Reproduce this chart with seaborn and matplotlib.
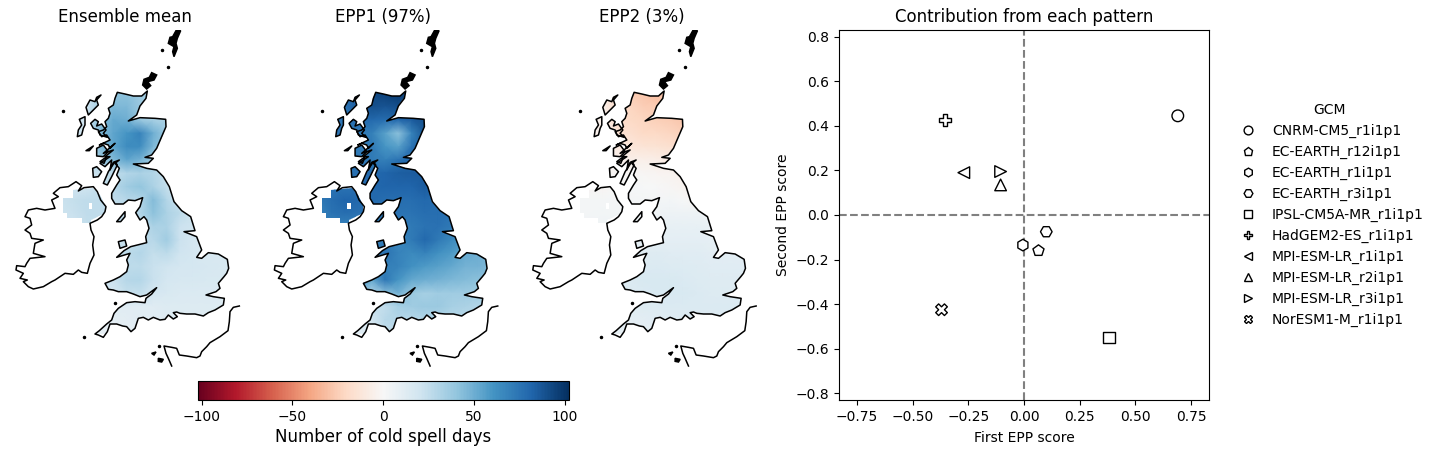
import numpy as np
import pandas as pd
import seaborn as sns
import matplotlib

matplotlib.use('Agg')
import matplotlib.pyplot as plt
from matplotlib.path import Path
from matplotlib.patches import Polygon
from matplotlib.cm import ScalarMappable
from matplotlib.colors import Normalize

# scatter data
gcm = ["CNRM-CM5_r1i1p1", "EC-EARTH_r12i1p1", "EC-EARTH_r1i1p1", "EC-EARTH_r3i1p1", "IPSL-CM5A-MR_r1i1p1",
       "HadGEM2-ES_r1i1p1", "MPI-ESM-LR_r1i1p1", "MPI-ESM-LR_r2i1p1", "MPI-ESM-LR_r3i1p1", "NorESM1-M_r1i1p1"]
first_score = [0.69, 0.065, -0.005, 0.10, 0.38, -0.355, -0.27, -0.105, -0.105, -0.37]
second_score = [0.445, -0.16, -0.135, -0.075, -0.55, 0.425, 0.19, 0.135, 0.195, -0.425]
gcm_markers = ["o", "p", "h", "H", "s", "P", "<", "^", ">", "X"]

titles = ["Ensemble mean", "EPP1 (97%)", "EPP2 (3%)"]

# map grid, picture-read
grid_x = [180, 220, 260, 300, 340, 380, 420, 460, 500, 540, 580, 620, 660, 700]
grid_y = [220, 260, 300, 340, 380, 420, 460, 500, 540, 580, 620, 660, 700, 740, 780, 820, 860, 900, 940]

ensemble_mean = [
    [20, 20, 20, 32, 40, 42, 38, 32, 30, 28, 25, 25, 25, 25],
    [20, 20, 20, 36, 46, 46, 38, 32, 30, 28, 25, 25, 25, 25],
    [20, 20, 20, 42, 52, 50, 38, 34, 32, 28, 25, 25, 25, 25],
    [20, 20, 20, 44, 54, 60, 68, 50, 36, 28, 25, 25, 25, 25],
    [20, 20, 20, 44, 54, 64, 64, 46, 36, 28, 25, 25, 25, 25],
    [20, 20, 20, 38, 44, 54, 48, 36, 28, 25, 25, 25, 25, 25],
    [20, 20, 20, 24, 26, 30, 32, 30, 24, 22, 20, 20, 20, 20],
    [20, 20, 20, 24, 28, 36, 40, 32, 24, 20, 20, 20, 20, 20],
    [22, 24, 26, 26, 26, 28, 30, 44, 30, 20, 20, 20, 20, 20],
    [21, 23, 26, 26, 26, 26, 30, 42, 32, 27, 20, 20, 20, 20],
    [20, 20, 24, 26, 26, 26, 26, 32, 32, 22, 20, 18, 18, 18],
    [20, 20, 22, 24, 24, 23, 26, 28, 36, 22, 18, 17, 17, 17],
    [20, 20, 22, 24, 24, 27, 30, 24, 27, 20, 18, 16, 16, 16],
    [20, 20, 22, 24, 24, 27, 27, 23, 20, 18, 18, 17, 16, 16],
    [20, 20, 22, 22, 22, 29, 30, 23, 18, 17, 17, 16, 16, 16],
    [20, 20, 20, 20, 18, 24, 24, 18, 16, 15, 15, 15, 15, 15],
    [12, 12, 12, 12, 12, 12, 12, 12, 14, 14, 14, 14, 13, 13],
    [9, 9, 9, 9, 10, 11, 12, 12, 13, 13, 13, 13, 13, 13],
    [8, 8, 8, 8, 9, 10, 11, 12, 12, 12, 12, 12, 12, 12],
]
epp1 = [
    [75, 75, 75, 85, 92, 95, 98, 92, 88, 85, 80, 80, 80, 80],
    [75, 75, 75, 85, 90, 88, 90, 88, 85, 85, 80, 80, 80, 80],
    [75, 75, 75, 78, 80, 78, 80, 85, 90, 85, 80, 80, 80, 80],
    [75, 75, 75, 72, 70, 55, 42, 68, 88, 85, 80, 80, 80, 80],
    [75, 75, 75, 72, 72, 60, 55, 75, 85, 85, 80, 80, 80, 80],
    [75, 75, 75, 72, 72, 70, 75, 82, 85, 80, 80, 80, 80, 80],
    [75, 75, 75, 78, 80, 82, 84, 85, 85, 80, 80, 80, 80, 80],
    [75, 75, 75, 78, 80, 82, 82, 82, 85, 80, 80, 80, 80, 80],
    [72, 78, 82, 80, 80, 78, 78, 78, 80, 78, 75, 75, 75, 75],
    [68, 75, 78, 76, 76, 76, 75, 75, 78, 78, 75, 75, 75, 75],
    [68, 68, 68, 70, 70, 70, 72, 72, 75, 76, 72, 70, 70, 70],
    [68, 68, 68, 70, 70, 72, 66, 72, 80, 72, 65, 60, 60, 60],
    [68, 68, 68, 70, 70, 75, 68, 65, 68, 62, 58, 52, 50, 48],
    [68, 68, 68, 70, 66, 70, 68, 62, 58, 55, 52, 48, 48, 45],
    [68, 68, 68, 60, 52, 74, 60, 52, 50, 48, 46, 44, 42, 42],
    [50, 50, 50, 48, 30, 42, 48, 38, 34, 36, 36, 36, 36, 36],
    [25, 25, 25, 25, 25, 25, 34, 36, 38, 38, 34, 32, 30, 30],
    [15, 15, 15, 15, 18, 28, 30, 28, 30, 30, 28, 28, 28, 28],
    [12, 12, 12, 12, 15, 25, 25, 25, 25, 25, 25, 25, 25, 25],
]
epp2 = [
    [-5, -5, -5, -22, -26, -28, -32, -25, -22, -22, -20, -20, -20, -20],
    [-5, -5, -5, -20, -22, -25, -26, -25, -22, -22, -20, -20, -20, -20],
    [-5, -5, -5, -18, -20, -22, -24, -26, -28, -25, -20, -20, -20, -20],
    [-5, -5, -5, -15, -16, -20, -20, -22, -24, -22, -20, -20, -20, -20],
    [-5, -5, -5, -10, -12, -14, -15, -16, -18, -18, -18, -18, -18, -18],
    [-3, -3, -3, -4, -6, -6, -7, -8, -8, -8, -8, -8, -8, -8],
    [-2, -2, -2, -1, -1, -1, -2, -3, -5, -7, -7, -7, -7, -7],
    [-2, -2, -2, 0, 1, 0, 0, -1, -3, -5, -6, -6, -6, -6],
    [2, 2, 2, 1, 2, 2, 2, 3, 0, -2, -3, -3, -3, -3],
    [2, 2, 3, 3, 3, 4, 4, 5, 5, 5, 3, 3, 3, 3],
    [4, 4, 4, 5, 6, 6, 6, 8, 8, 8, 7, 7, 7, 7],
    [6, 6, 6, 7, 8, 9, 10, 10, 10, 10, 9, 9, 9, 9],
    [8, 8, 8, 9, 11, 12, 13, 12, 12, 12, 11, 11, 11, 11],
    [10, 10, 10, 12, 14, 15, 15, 14, 14, 13, 12, 12, 12, 12],
    [12, 12, 12, 13, 15, 16, 16, 16, 15, 14, 13, 13, 13, 13],
    [12, 12, 12, 13, 14, 15, 16, 16, 16, 15, 14, 14, 14, 14],
    [10, 10, 10, 11, 12, 13, 14, 15, 15, 15, 15, 15, 15, 15],
    [9, 9, 9, 10, 10, 11, 12, 13, 14, 14, 14, 14, 14, 14],
    [8, 8, 8, 9, 9, 10, 11, 12, 13, 13, 13, 13, 13, 13],
]
fields = [ensemble_mean, epp1, epp2]

# coastlines (map units)
great_britain = [
    (352, 217), (375, 222), (400, 228), (425, 228), (442, 213), (438, 235), (420, 258), (410, 285), (385, 303),
    (420, 293), (465, 295), (497, 298), (498, 320), (485, 350), (470, 385), (455, 405), (435, 412), (460, 415),
    (445, 430), (400, 432), (440, 445), (470, 450), (490, 470), (508, 500), (522, 545), (545, 572), (572, 590),
    (585, 632), (552, 635), (590, 650), (605, 690), (590, 712), (605, 715), (625, 698), (655, 702), (682, 718),
    (686, 745), (680, 760), (672, 770), (655, 790), (660, 805), (648, 815), (618, 825), (640, 830), (673, 835),
    (670, 855), (645, 870), (625, 878), (610, 888), (585, 882), (560, 882), (540, 880), (530, 876), (520, 878),
    (532, 890), (520, 897), (505, 885), (495, 898), (480, 900), (460, 892), (445, 900), (430, 892), (415, 895),
    (405, 925), (393, 935), (380, 920), (368, 918), (350, 912), (330, 912), (322, 935), (310, 952), (295, 945),
    (285, 942), (298, 932), (320, 912), (335, 900), (342, 880), (355, 865), (380, 848), (405, 845), (435, 848),
    (438, 835), (455, 822), (470, 803), (440, 825), (420, 830), (400, 822), (380, 815), (355, 815), (340, 810),
    (325, 808), (315, 790), (340, 780), (360, 770), (380, 755), (385, 735), (380, 720), (390, 700), (350, 712),
    (372, 692), (392, 680), (440, 668), (437, 650), (447, 625), (440, 600), (432, 590), (420, 600), (407, 578),
    (420, 560), (428, 533), (405, 542), (385, 540), (370, 552), (345, 552), (335, 535), (335, 520), (350, 495),
    (360, 480), (350, 465), (358, 445), (345, 430), (358, 420), (340, 427), (330, 450), (335, 420), (315, 440),
    (300, 430), (330, 410), (315, 410), (340, 390), (310, 400), (345, 370), (330, 385), (325, 375), (310, 370),
    (298, 375), (330, 360), (320, 345), (305, 350), (295, 335), (310, 330), (320, 320), (315, 305), (325, 295),
    (330, 280), (325, 265), (340, 255), (345, 235),
]
ireland = [
    (228, 485), (245, 497), (235, 513), (252, 503), (280, 500), (292, 515), (302, 540), (318, 560), (315, 575),
    (305, 590), (292, 600), (270, 610), (273, 630), (282, 650), (278, 675), (282, 705), (270, 730), (262, 760),
    (245, 757), (235, 750), (220, 763), (195, 760), (165, 780), (155, 785), (130, 800), (100, 807), (85, 800),
    (70, 785), (82, 780), (60, 775), (70, 760), (48, 750), (50, 737), (75, 740), (80, 730), (90, 715), (135, 710),
    (100, 700), (105, 670), (130, 660), (95, 655), (90, 640), (75, 630), (95, 615), (90, 595), (75, 590), (85, 570),
    (110, 565), (135, 570), (165, 565), (155, 540), (175, 530), (160, 520), (180, 503), (205, 500),
]
ni_cells = [
    (190, 533), (218, 533), (218, 510), (280, 505), (300, 525), (315, 555), (315, 580), (272, 600), (272, 608),
    (245, 608), (245, 593), (202, 593), (202, 580), (190, 580),
]
lough_neagh = [(267, 550), (277, 550), (277, 568), (267, 568)]
islands = [
    [(303, 225), (290, 232), (285, 245), (270, 240), (258, 262), (265, 285), (278, 272), (295, 255), (290, 240)],
    [(255, 290), (238, 298), (245, 315), (235, 330), (232, 350), (245, 345), (250, 325), (255, 315)],
    [(285, 298), (295, 305), (290, 318), (305, 312), (318, 330), (310, 340), (322, 352), (300, 345), (295, 330),
     (280, 325), (272, 310)],
    [(258, 392), (280, 378), (268, 392)],
    [(290, 385), (310, 375), (325, 395), (310, 410), (290, 408)],
    [(278, 445), (290, 440), (305, 455), (295, 470), (280, 472)],
    [(300, 425), (320, 410), (312, 430)],
    [(322, 495), (310, 490), (325, 455), (345, 425), (352, 435), (335, 470)],
    [(375, 575), (350, 605), (362, 605), (375, 590)],
    [(355, 665), (375, 660), (380, 678), (360, 685)],
]
solid_islands = [
    [(528, 32), (542, 32), (532, 55), (528, 70), (532, 85), (522, 110), (518, 95), (522, 80), (505, 70), (510, 52),
     (518, 50)],
    [(470, 165), (455, 158), (448, 172), (432, 178), (428, 195), (440, 207), (452, 197), (443, 185), (462, 180)],
    [(455, 1000), (468, 996), (462, 1005)],
    [(475, 1015), (490, 1018), (485, 1026), (475, 1024)],
]
dots_x = [487, 505, 190, 477, 345, 252]
dots_y = [90, 142, 272, 978, 850, 952]
france_x = [718, 700, 690, 688, 684, 660, 630, 620, 605, 600, 590, 560, 538, 530, 515, 492, 498, 505, 515]
france_y = [858, 862, 875, 905, 932, 950, 968, 980, 995, 1008, 1013, 1008, 1005, 985, 982, 978, 1000, 1015, 1038]

W, H = 1440, 454


def px_axes(x0, y0, x1, y1):
    return fig.add_axes([x0 / W, 1 - y1 / H, (x1 - x0) / W, (y1 - y0) / H])


fig = plt.figure(figsize=(14.4, 4.54), dpi=100)
cmap = plt.get_cmap("RdBu")
norm = Normalize(-102, 102)

colour_region = Path.make_compound_path(
    *[Path(p + [p[0]], closed=True) for p in [great_britain, ni_cells] + islands])

for i in range(3):
    ax = px_axes(5 + i * 258.4, 30, 245 + i * 258.4, 370)
    mesh = ax.pcolormesh(grid_x, grid_y, np.array(fields[i]), cmap=cmap, norm=norm, shading="gouraud")
    mesh.set_clip_path(colour_region, ax.transData)
    ax.add_patch(Polygon(lough_neagh, fc="white", ec="none"))
    for line in [great_britain, ireland] + islands:
        ax.add_patch(Polygon(line, fill=False, ec="black", lw=1.1, joinstyle="round"))
    for line in solid_islands:
        ax.add_patch(Polygon(line, fc="black", ec="black", lw=1.1))
    ax.plot(france_x, france_y, color="black", lw=1.1)
    ax.plot(dots_x, dots_y, ls="none", marker="o", ms=1.5, color="black")
    ax.set_xlim(15, 735)
    ax.set_ylim(1050, 30)
    ax.axis("off")
    ax.set_title(titles[i], fontsize=12, y=1.0, pad=6)

cax = px_axes(198, 381, 568.5, 400)
cbar = fig.colorbar(ScalarMappable(norm=norm, cmap=cmap), cax=cax, orientation="horizontal")
cbar.set_ticks([-100, -50, 0, 50, 100])
cbar.set_label("Number of cold spell days", fontsize=12, labelpad=3)

scores = pd.DataFrame({"GCM": gcm, "first": first_score, "second": second_score})
ax = px_axes(839, 30, 1209, 400)
ax.axhline(0, color="grey", ls="--", lw=1.5, zorder=1)
ax.axvline(0, color="grey", ls="--", lw=1.5, zorder=1)
sns.scatterplot(data=scores, x="first", y="second", style="GCM", markers=dict(zip(gcm, gcm_markers)),
                s=70, color="white", edgecolor="black", linewidth=1.0, ax=ax, zorder=3)
ax.set_xlim(-0.83, 0.83)
ax.set_ylim(-0.83, 0.83)
ax.set_xticks([-0.75, -0.5, -0.25, 0, 0.25, 0.5, 0.75])
ax.set_yticks([-0.8, -0.6, -0.4, -0.2, 0, 0.2, 0.4, 0.6, 0.8])
ax.set_xlabel("First EPP score", labelpad=5)
ax.set_ylabel("Second EPP score")
ax.set_title("Contribution from each pattern", fontsize=12, pad=6)
legend = ax.legend(title="GCM", frameon=False, loc="center left", bbox_to_anchor=(1.035, 0.5), handletextpad=0.7)
for handle in legend.legend_handles:
    handle.set_markersize(6.3)
    handle.set_markeredgewidth(1.0)

fig.savefig("out.png", dpi=100)
